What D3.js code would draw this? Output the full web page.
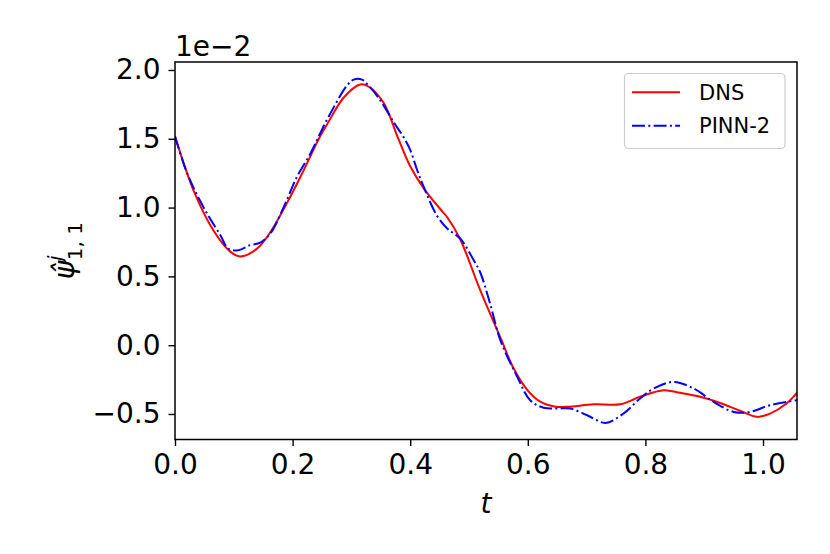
<!DOCTYPE html>
<html><head><meta charset="utf-8">
<script src="https://cdn.jsdelivr.net/npm/d3@7"></script>
<style>
body{margin:0;background:#fff;}
text{font-family:"DejaVu Sans",sans-serif;}
</style></head>
<body><svg id="chart" width="830" height="554"></svg>
<script>
const dnsT = [0.0,0.032,0.066,0.094,0.111,0.139,0.162,0.19,0.213,0.247,0.258,0.287,0.315,0.329,0.355,0.378,0.40,0.423,0.454,0.463,0.485,0.519,0.553,0.576,0.60,0.621,0.645,0.667,0.712,0.757,0.791,0.831,0.859,0.893,0.927,0.961,0.99,1.012,1.04,1.058];
const dnsY = [1.52,1.12,0.83,0.68,0.645,0.70,0.82,1.03,1.22,1.52,1.60,1.80,1.895,1.88,1.76,1.52,1.30,1.14,0.975,0.93,0.77,0.40,0.06,-0.17,-0.33,-0.41,-0.445,-0.448,-0.43,-0.43,-0.375,-0.327,-0.346,-0.375,-0.42,-0.477,-0.521,-0.497,-0.424,-0.346];
const pinnT = [0.0,0.018,0.032,0.054,0.077,0.091,0.108,0.128,0.145,0.162,0.185,0.207,0.23,0.247,0.258,0.293,0.304,0.318,0.327,0.349,0.372,0.389,0.40,0.412,0.423,0.445,0.463,0.485,0.508,0.519,0.536,0.553,0.582,0.604,0.627,0.65,0.672,0.701,0.732,0.763,0.791,0.814,0.848,0.882,0.916,0.95,0.978,1.012,1.058];
const pinnY = [1.515,1.28,1.14,0.96,0.80,0.70,0.69,0.727,0.745,0.81,1.005,1.22,1.39,1.54,1.635,1.89,1.93,1.93,1.897,1.78,1.62,1.51,1.42,1.27,1.15,0.945,0.848,0.775,0.618,0.53,0.30,0.04,-0.23,-0.40,-0.455,-0.46,-0.46,-0.509,-0.565,-0.496,-0.387,-0.315,-0.267,-0.315,-0.412,-0.485,-0.485,-0.436,-0.40];
const xTicks = [0.0,0.2,0.4,0.6,0.8,1.0];
const yTicks = [-0.5,0.0,0.5,1.0,1.5,2.0];
const seriesNames = ["DNS","PINN-2"];

const svg = d3.select("#chart");
const L = 175, R = 797, T = 62, B = 439.5;
const x = d3.scaleLinear().domain([0, 1.0578]).range([L, R]);
const y = d3.scaleLinear().domain([-0.6855, 2.058]).range([B, T]);

svg.append("defs").append("clipPath").attr("id","clip")
  .append("rect").attr("x",L).attr("y",T).attr("width",R-L).attr("height",B-T);

const line = d3.line().x(d=>x(d[0])).y(d=>y(d[1])).curve(d3.curveCatmullRom.alpha(0.5));
const dns = dnsT.map((t,i)=>[t,dnsY[i]]);
const pinn = pinnT.map((t,i)=>[t,pinnY[i]]);

const g = svg.append("g").attr("clip-path","url(#clip)");
g.append("path").datum(dns).attr("d",line).attr("fill","none").attr("stroke","#ff0000").attr("stroke-width",2);
g.append("path").datum(pinn).attr("d",line).attr("fill","none").attr("stroke","#0000ff").attr("stroke-width",2).attr("stroke-dasharray","13,3.3,2,3.3");

const fmt = d3.format(".1f");
const xAxis = svg.append("g").attr("transform",`translate(0,${B})`)
  .call(d3.axisBottom(x).tickValues(xTicks).tickFormat(fmt).tickSize(6.5).tickPadding(6.5).tickSizeOuter(0));
const yAxis = svg.append("g").attr("transform",`translate(${L},0)`)
  .call(d3.axisLeft(y).tickValues(yTicks).tickFormat(fmt).tickSize(6.5).tickPadding(8).tickSizeOuter(0));
[xAxis,yAxis].forEach(a=>{
  a.select(".domain").remove();
  a.selectAll(".tick line").attr("stroke","#000").attr("stroke-width",1.4);
  a.selectAll(".tick text").attr("font-size",28).attr("fill","#000").attr("font-family","DejaVu Sans");
});
xAxis.selectAll(".tick text").attr("dy","0.78em");

svg.append("rect").attr("x",L).attr("y",T).attr("width",R-L).attr("height",B-T)
  .attr("fill","none").attr("stroke","#000").attr("stroke-width",1.5);

// offset text
svg.append("text").attr("x",L).attr("y",56).attr("font-size",28).text("1e\u22122");

// x label
svg.append("text").attr("x",(L+R)/2).attr("y",513).attr("text-anchor","middle")
  .attr("font-size",28).attr("font-style","italic").text("t");

// y label
const yl = svg.append("text").attr("transform",`translate(74,${(T+B)/2}) rotate(-90)`)
  .attr("text-anchor","middle").attr("font-size",28);
yl.append("tspan").attr("font-style","italic").text("\u03C8\u0302");
yl.append("tspan").attr("font-style","italic").attr("font-size",20).attr("dy",-12).text("j");
yl.append("tspan").attr("font-size",20).attr("dy",20).attr("dx",-5).text("1, 1");

// legend
const lg = svg.append("g");
lg.append("rect").attr("x",624.5).attr("y",73.5).attr("width",160.5).attr("height",75).attr("rx",4)
  .attr("fill","#fff").attr("fill-opacity",0.8).attr("stroke","#cccccc").attr("stroke-width",1.2);
const legY = [92.3,125.7];
const legStyle = [{c:"#ff0000",d:null},{c:"#0000ff",d:"13,3.3,2,3.3"}];
seriesNames.forEach((n,i)=>{
  lg.append("line").attr("x1",632).attr("x2",680).attr("y1",legY[i]).attr("y2",legY[i])
    .attr("stroke",legStyle[i].c).attr("stroke-width",2).attr("stroke-dasharray",legStyle[i].d);
  lg.append("text").attr("x",699).attr("y",legY[i]+7.5).attr("font-size",21).text(n);
});
</script></body></html>
